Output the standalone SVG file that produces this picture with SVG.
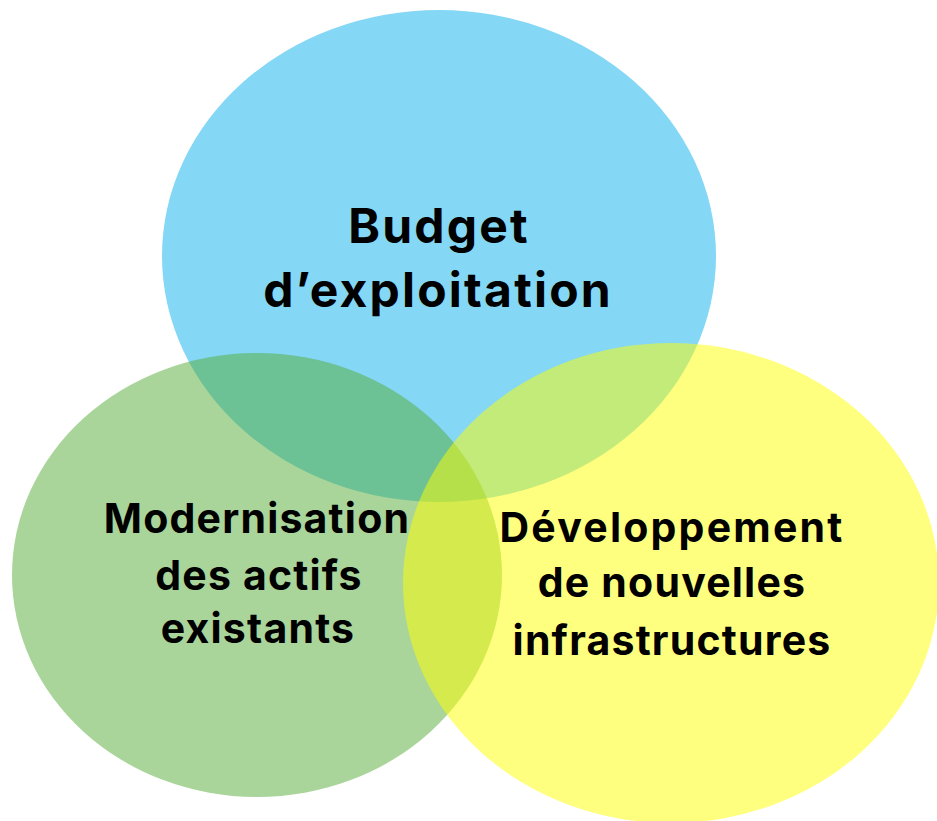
<svg xmlns="http://www.w3.org/2000/svg" width="937" height="821" viewBox="0 0 937 821">
  <style>
    .c { opacity: 0.5; }
    .t { font-family: Inter, "Liberation Sans", sans-serif; font-weight: 700; fill: #000; text-anchor: middle; }
    .big { font-size: 48px; letter-spacing: 2.2px; }
    .med { font-size: 41px; letter-spacing: 1.2px; }
  </style>
  <rect width="937" height="821" fill="#ffffff"/>
  <g id="budget">
    <ellipse class="c" cx="439" cy="256" rx="277" ry="246" fill="#09AFEB"/>
  </g>
  <g id="modernisation">
    <ellipse class="c" cx="257" cy="575" rx="245" ry="222" fill="#53AB35"/>
  </g>
  <g id="developpement">
    <ellipse class="c" cx="671" cy="583" rx="268" ry="240" fill="#FFFF00"/>
  </g>
  <g id="labels">
    <text class="t big" x="439" y="243">Budget</text>
    <text class="t big" x="438" y="307">d’exploitation</text>
    <text class="t med" x="257" y="533">Modernisation</text>
    <text class="t med" x="259" y="590">des actifs</text>
    <text class="t med" x="258" y="643">existants</text>
    <text class="t med" x="672" y="542" style="letter-spacing:2.2px">Développement</text>
    <text class="t med" x="672" y="597">de nouvelles</text>
    <text class="t med" x="672" y="655">infrastructures</text>
  </g>
</svg>
